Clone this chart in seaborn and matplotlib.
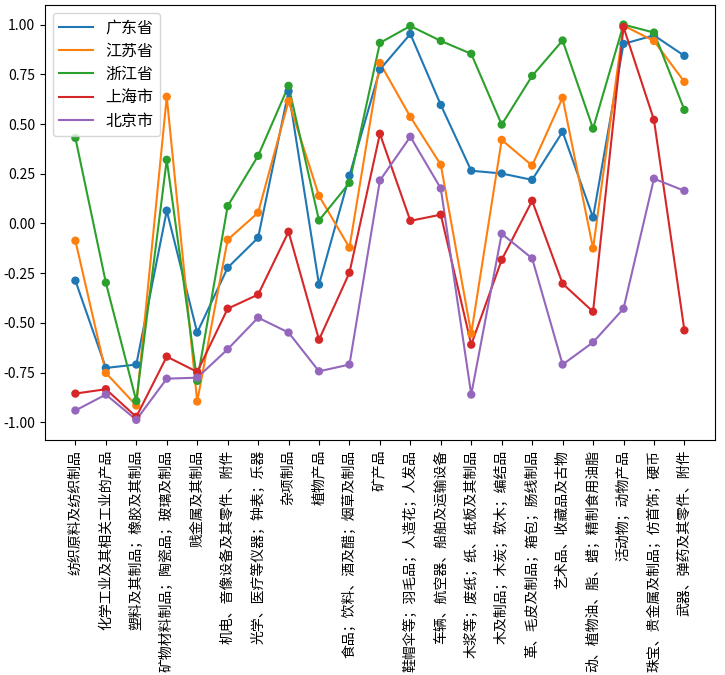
import numpy as np
import pandas as pd
import matplotlib
matplotlib.use("Agg")
import matplotlib.pyplot as plt
import seaborn as sns

categories = [
    "纺织原料及纺织制品",
    "化学工业及其相关工业的产品",
    "塑料及其制品；橡胶及其制品",
    "矿物材料制品；陶瓷品；玻璃及制品",
    "贱金属及其制品",
    "机电、音像设备及其零件、附件",
    "光学、医疗等仪器；钟表；乐器",
    "杂项制品",
    "植物产品",
    "食品；饮料、酒及醋；烟草及制品",
    "矿产品",
    "鞋帽伞等；羽毛品；人造花；人发品",
    "车辆、航空器、船舶及运输设备",
    "木浆等；废纸；纸、纸板及其制品",
    "木及制品；木炭；软木；编结品",
    "革、毛皮及制品；箱包；肠线制品",
    "艺术品、收藏品及古物",
    "动、植物油、脂、蜡；精制食用油脂",
    "活动物；动物产品",
    "珠宝、贵金属及制品；仿首饰；硬币",
    "武器、弹药及其零件、附件",
]

guangdong = [-0.288, -0.727, -0.710, 0.064, -0.549, -0.223, -0.072, 0.665, -0.308, 0.240,
             0.774, 0.953, 0.596, 0.265, 0.251, 0.219, 0.461, 0.030, 0.903, 0.946, 0.843]
jiangsu = [-0.087, -0.752, -0.916, 0.637, -0.896, -0.082, 0.054, 0.615, 0.139, -0.122,
           0.807, 0.536, 0.295, -0.554, 0.420, 0.291, 0.632, -0.126, 0.995, 0.918, 0.712]
zhejiang = [0.430, -0.298, -0.893, 0.320, -0.792, 0.087, 0.340, 0.692, 0.015, 0.204,
            0.908, 0.993, 0.918, 0.853, 0.497, 0.742, 0.920, 0.477, 1.000, 0.960, 0.571]
shanghai = [-0.856, -0.834, -0.973, -0.670, -0.747, -0.429, -0.358, -0.042, -0.585, -0.248,
            0.451, 0.013, 0.044, -0.610, -0.183, 0.114, -0.303, -0.444, 0.988, 0.521, -0.538]
beijing = [-0.941, -0.861, -0.988, -0.781, -0.776, -0.633, -0.474, -0.549, -0.744, -0.710,
           0.216, 0.436, 0.176, -0.861, -0.052, -0.176, -0.710, -0.598, -0.429, 0.225, 0.164]

provinces = ["广东省", "江苏省", "浙江省", "上海市", "北京市"]
series = [guangdong, jiangsu, zhejiang, shanghai, beijing]
colors = ["#1f77b4", "#ff7f0e", "#2ca02c", "#d62728", "#9467bd"]

rows = []
for p, vals in zip(provinces, series):
    for i, v in enumerate(vals):
        rows.append({"idx": i, "value": v, "province": p})
df = pd.DataFrame(rows)

plt.rcParams["font.family"] = ["Noto Sans CJK SC", "DejaVu Sans"]
plt.rcParams["axes.unicode_minus"] = False

fig, ax = plt.subplots(figsize=(7.25, 6.75), dpi=100)
fig.subplots_adjust(left=0.062, right=0.986, top=0.993, bottom=0.348)

palette = dict(zip(provinces, colors))
sns.lineplot(data=df, x="idx", y="value", hue="province", hue_order=provinces,
             palette=palette, sort=False, ax=ax, linewidth=1.5)
sns.scatterplot(data=df, x="idx", y="value", hue="province", hue_order=provinces,
                palette=palette, ax=ax, s=36, linewidth=0, legend=False, zorder=3)

ax.set_xticks(range(len(categories)))
ax.set_xticklabels(categories, rotation=90, fontsize=10)
ax.set_yticks([-1.0, -0.75, -0.5, -0.25, 0.0, 0.25, 0.5, 0.75, 1.0])
ax.set_yticklabels(["-1.00", "-0.75", "-0.50", "-0.25", "0.00", "0.25", "0.50", "0.75", "1.00"], fontsize=10)
ax.set_xlabel("")
ax.set_ylabel("")
ax.set_xlim(-1.0, 21.0)
ax.set_ylim(-1.09, 1.1)
ax.legend(loc="upper left", fontsize=11.5, title=None, labelspacing=0.4,
          handlelength=2.1, handletextpad=0.8)

fig.savefig("out.png", dpi=100)
